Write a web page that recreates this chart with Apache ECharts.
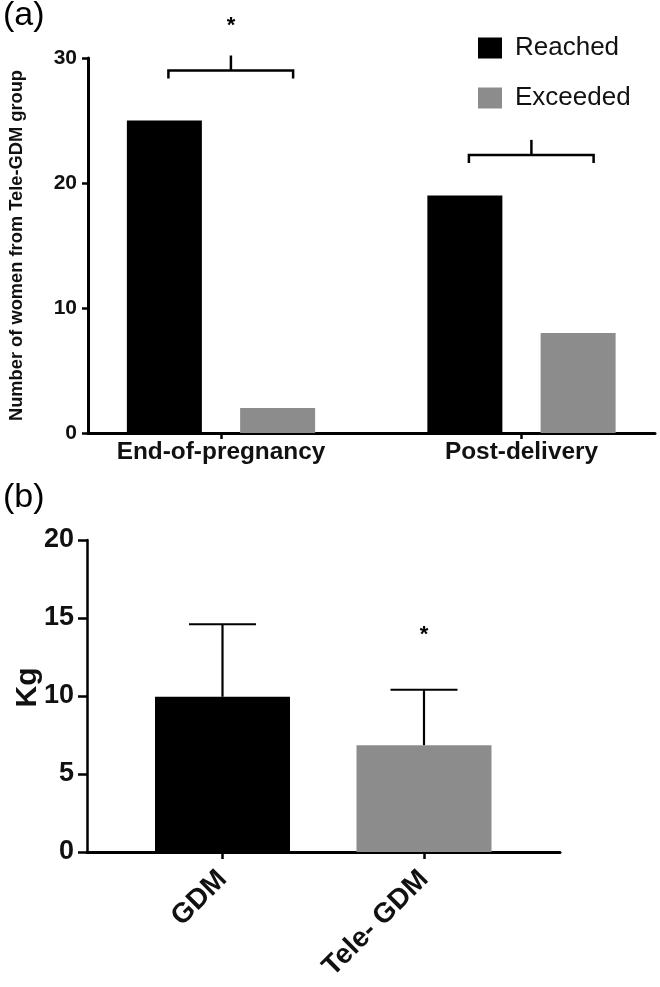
<!DOCTYPE html>
<html><head><meta charset="utf-8">
<script src="https://cdn.jsdelivr.net/npm/echarts@6/dist/echarts.min.js"></script>
<style>html,body{margin:0;padding:0;background:#fff}#c{width:660px;height:987px}</style>
</head><body><div id="c"></div>
<script>
const FONT = '"Liberation Sans", Arial, Helvetica, sans-serif';
// ---- Panel (a) data ----
const aCategories = ['End-of-pregnancy', 'Post-delivery'];
const aSeriesNames = ['Reached', 'Exceeded'];
const aReached = [25, 19];
const aExceeded = [2, 8];
const aTicks = [0, 10, 20, 30];
const aYName = 'Number of women from Tele-GDM group';
const aBracketLevel = [29, 22.25];
const aBracketMark = ['*', ''];
// ---- Panel (b) data ----
const bCategories = ['GDM', 'Tele- GDM'];
const bMeans = [9.95, 6.85];
const bSD = [4.65, 3.55];
const bMark = ['', '*'];
const bTicks = [0, 5, 10, 15, 20];
const bYName = 'Kg';

const BLACK = '#000000', GRAY = '#8c8c8c';
const idxA = aCategories.map((_, i) => i);
const idxB = bCategories.map((_, i) => i);

const chart = echarts.init(document.getElementById('c'), null, {renderer: 'canvas'});
const option = {
  animation: false,
  backgroundColor: '#ffffff',
  textStyle: {fontFamily: FONT},
  graphic: [
    {type: 'text', left: 3, top: -1, style: {text: '(a)', font: '34px ' + FONT, fill: '#000'}},
    {type: 'text', left: 3, top: 481, style: {text: '(b)', font: '34px ' + FONT, fill: '#000'}}
  ],
  legend: {
    data: aSeriesNames, orient: 'vertical', left: 478, top: 35, padding: 0,
    itemWidth: 24, itemHeight: 21, itemGap: 24, icon: 'rect',
    textStyle: {fontSize: 26, color: '#111', fontFamily: FONT, padding: [0, 0, 0, 8]},
    selectedMode: false
  },
  grid: [
    {left: 88, right: 5, top: 58, bottom: 554, containLabel: false, outerBoundsMode: 'none'},
    {left: 87, right: 100, top: 540, bottom: 135, containLabel: false, outerBoundsMode: 'none'}
  ],
  xAxis: [
    {
      gridIndex: 0, type: 'value', min: -0.4426, max: 1.4443,
      splitLine: {show: false},
      axisLine: {show: true, onZero: false, lineStyle: {color: '#000', width: 3}},
      axisTick: {show: true, customValues: idxA, length: 6, lineStyle: {color: '#000', width: 2.5}},
      axisLabel: {show: true, customValues: idxA, formatter: v => aCategories[Math.round(v)] || '',
        fontSize: 24.4, fontWeight: 'bold', color: '#111', margin: 7, fontFamily: FONT}
    },
    {
      gridIndex: 1, type: 'value', min: -0.6725, max: 1.675,
      splitLine: {show: false},
      axisLine: {show: true, onZero: false, lineStyle: {color: '#000', width: 3}},
      axisTick: {show: true, customValues: idxB, length: 7, lineStyle: {color: '#000', width: 2.5}},
      axisLabel: {show: true, customValues: idxB, formatter: v => bCategories[Math.round(v)] || '',
        rotate: 45, fontSize: 28, fontWeight: 'bold', color: '#111', margin: 23, fontFamily: FONT}
    }
  ],
  yAxis: [
    {
      gridIndex: 0, type: 'value', min: aTicks[0], max: aTicks[aTicks.length - 1], interval: aTicks[1] - aTicks[0],
      name: aYName, nameLocation: 'middle', nameRotate: 90, nameGap: 62,
      nameTextStyle: {fontSize: 18.3, fontWeight: 'bold', color: '#111', fontFamily: FONT},
      splitLine: {show: false},
      axisLine: {show: true, onZero: false, lineStyle: {color: '#000', width: 3}},
      axisTick: {show: true, length: 6, lineStyle: {color: '#000', width: 2.5}},
      axisLabel: {fontSize: 21, fontWeight: 'bold', color: '#111', margin: 11, fontFamily: FONT}
    },
    {
      gridIndex: 1, type: 'value', min: bTicks[0], max: bTicks[bTicks.length - 1], interval: bTicks[1] - bTicks[0],
      name: bYName, nameLocation: 'middle', nameRotate: 90, nameGap: 44, nameMoveOverlap: false,
      nameTextStyle: {fontSize: 30, fontWeight: 'bold', color: '#111', fontFamily: FONT, padding: [0, 0, 0, 17]},
      splitLine: {show: false},
      axisLine: {show: true, onZero: false, lineStyle: {color: '#000', width: 2.5}},
      axisTick: {show: true, length: 9, lineStyle: {color: '#000', width: 2.5}},
      axisLabel: {fontSize: 27, fontWeight: 'bold', color: '#111', margin: 13, fontFamily: FONT}
    }
  ],
  series: [
    {
      name: aSeriesNames[0], type: 'bar', xAxisIndex: 0, yAxisIndex: 0,
      data: idxA.map(i => [i, aReached[i]]), barWidth: 75, barGap: '51%',
      itemStyle: {color: BLACK}
    },
    {
      name: aSeriesNames[1], type: 'bar', xAxisIndex: 0, yAxisIndex: 0,
      data: idxA.map(i => [i, aExceeded[i]]), barWidth: 75, barGap: '51%',
      itemStyle: {color: GRAY}
    },
    {
      type: 'custom', xAxisIndex: 0, yAxisIndex: 0, silent: true, clip: false, z: 5,
      data: idxA.map(i => [i, aBracketLevel[i]]),
      renderItem: function (params, api) {
        const x = api.value(0), lv = api.value(1);
        const L = api.coord([x - 0.175, lv]), R = api.coord([x + 0.24, lv]), C = api.coord([x + 0.033, lv]);
        const drop = 8, stem = 15;
        const children = [
          {type: 'polyline', shape: {points: [[L[0], L[1] + drop], [L[0], L[1]], [R[0], R[1]], [R[0], R[1] + drop]]},
            style: {stroke: '#000', lineWidth: 2.5, fill: 'none'}},
          {type: 'line', shape: {x1: C[0], y1: C[1], x2: C[0], y2: C[1] - stem},
            style: {stroke: '#000', lineWidth: 2.5}}
        ];
        const mark = aBracketMark[params.dataIndex];
        if (mark) {
          children.push({type: 'text', x: C[0], y: C[1] - stem - 30,
            style: {text: mark, fill: '#000', font: 'bold 22px ' + FONT, align: 'center', verticalAlign: 'middle'}});
        }
        return {type: 'group', children: children};
      }
    },
    {
      type: 'bar', xAxisIndex: 1, yAxisIndex: 1, barWidth: 135,
      data: idxB.map(i => ({value: [i, bMeans[i]], itemStyle: {color: i === 0 ? BLACK : GRAY}}))
    },
    {
      type: 'custom', xAxisIndex: 1, yAxisIndex: 1, silent: true, clip: false, z: 5,
      data: idxB.map(i => [i, bMeans[i], bMeans[i] + bSD[i]]),
      renderItem: function (params, api) {
        const x = api.value(0);
        const base = api.coord([x, api.value(1)]), top = api.coord([x, api.value(2)]);
        const half = 33.5;
        const children = [
          {type: 'line', shape: {x1: base[0], y1: base[1], x2: top[0], y2: top[1]}, style: {stroke: '#000', lineWidth: 2.2}},
          {type: 'line', shape: {x1: top[0] - half, y1: top[1], x2: top[0] + half, y2: top[1]}, style: {stroke: '#000', lineWidth: 2.2}}
        ];
        const mark = bMark[params.dataIndex];
        if (mark) {
          children.push({type: 'text', x: top[0], y: top[1] - 55,
            style: {text: mark, fill: '#000', font: 'bold 22px ' + FONT, align: 'center', verticalAlign: 'middle'}});
        }
        return {type: 'group', children: children};
      }
    }
  ]
};
chart.setOption(option);
</script></body></html>
